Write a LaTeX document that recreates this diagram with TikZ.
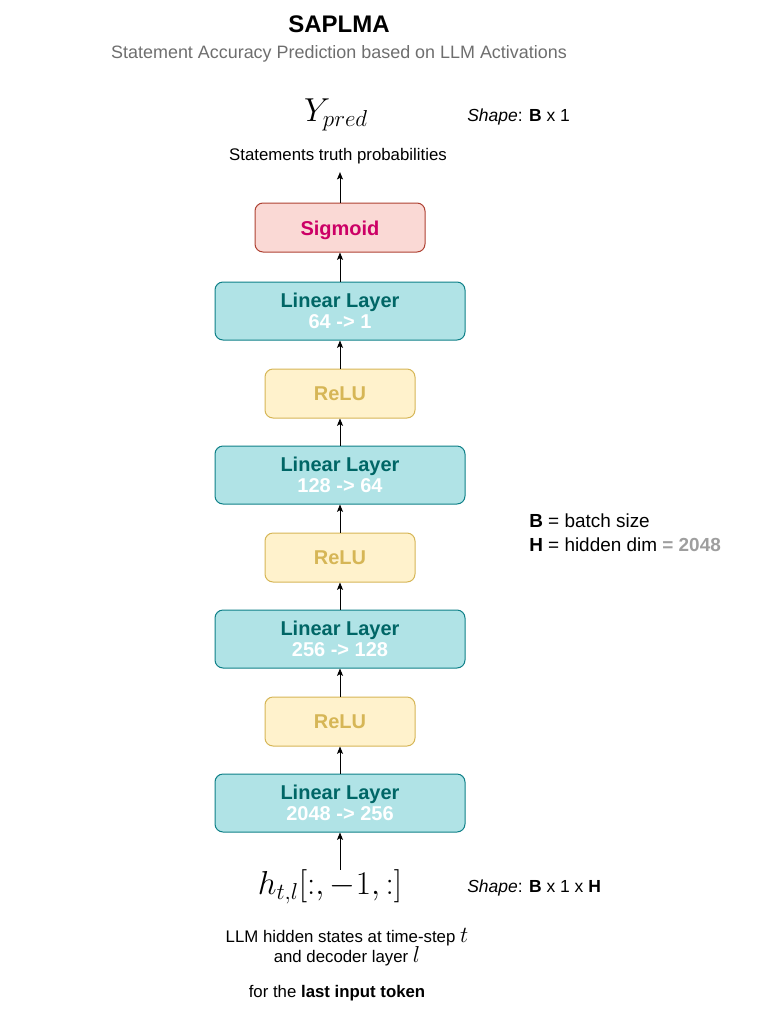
\documentclass[tikz,border=0pt]{standalone}
\usepackage[no-math]{fontspec}
\setmainfont{Liberation Sans}
\usetikzlibrary{arrows.meta}
\definecolor{tealfill}{HTML}{B0E3E6}
\definecolor{tealdraw}{HTML}{0E8088}
\definecolor{tealtext}{HTML}{006666}
\definecolor{pinkfill}{HTML}{FAD9D5}
\definecolor{pinkdraw}{HTML}{AE4132}
\definecolor{sigtext}{HTML}{CC0066}
\definecolor{yelfill}{HTML}{FFF2CC}
\definecolor{yeldraw}{HTML}{D6B656}
\definecolor{subgray}{HTML}{6E6E6E}
\definecolor{numgray}{HTML}{9E9E9E}
\begin{document}
\begin{tikzpicture}[x=0.75pt,y=-0.75pt,
  box/.style={rounded corners=6pt,line width=0.75pt,inner sep=0pt,align=center},
  linbox/.style={box,draw=tealdraw,fill=tealfill,minimum width=187.5pt,minimum height=43.5pt,
     font=\fontsize{15}{15.75}\selectfont\bfseries},
  relubox/.style={box,draw=yeldraw,fill=yelfill,minimum width=112.5pt,minimum height=36.75pt,
     font=\fontsize{15}{18}\selectfont\bfseries,text=yeldraw},
  sigbox/.style={box,draw=pinkdraw,fill=pinkfill,minimum width=127.5pt,minimum height=36.75pt,
     font=\fontsize{15}{18}\selectfont\bfseries,text=sigtext,text height=15.5pt,text depth=3.2pt},
  lbl/.style={inner sep=0pt,font=\fontsize{12.6}{15}\selectfont},
  shp/.style={inner sep=0pt,font=\fontsize{13.1}{15}\selectfont},
  arr/.style={-{Stealth[length=5.5pt,width=4.5pt,inset=1.2pt]},line width=0.75pt,black}]
\useasboundingbox (0,0) rectangle (758,1018);

\node[inner sep=0pt,font=\fontsize{18}{20}\selectfont\bfseries] (title) at (339,24) {SAPLMA};
\node[inner sep=0pt,font=\fontsize{13.45}{15}\selectfont,text=subgray] (subtitle) at (339,54) {Statement Accuracy Prediction based on LLM Activations};

\node[inner sep=0pt,font=\fontsize{25}{27}\selectfont] (ypred) at (336,115) {$Y_{pred}$};
\node[shp,anchor=west] (shape1) at (467,117) {\textit{Shape}: \textbf{B} x 1};
\node[lbl] (stmt) at (338,156) {Statements truth probabilities};

\node[sigbox] (sig) at (340,227.5) {Sigmoid};
\node[linbox] (lin1) at (340,311) {\textcolor{tealtext}{Linear Layer}\\\textcolor{white}{64 -> 1}};
\node[relubox] (relu1) at (340,393.5) {ReLU};
\node[linbox] (lin2) at (340,475) {\textcolor{tealtext}{Linear Layer}\\\textcolor{white}{128 -> 64}};
\node[relubox] (relu2) at (340,557.5) {ReLU};
\node[linbox] (lin3) at (340,639) {\textcolor{tealtext}{Linear Layer}\\\textcolor{white}{256 -> 128}};
\node[relubox] (relu3) at (340,721.5) {ReLU};
\node[linbox] (lin4) at (340,803) {\textcolor{tealtext}{Linear Layer}\\\textcolor{white}{2048 -> 256}};

\node[inner sep=0pt,anchor=west,align=left,font=\fontsize{14.2}{18}\selectfont] (legend) at (529,533) {\textbf{B} = batch size\\\textbf{H} = hidden dim \textcolor{numgray}{\textbf{= 2048}}};

\node[inner sep=0pt,font=\fontsize{25}{27}\selectfont] (h) at (330,887) {$h_{t,l}[:,-1,:]$};
\node[shp,anchor=west] (shape2) at (467,888) {\textit{Shape}: \textbf{B} x 1 x \textbf{H}};
\node[lbl,align=center,font=\fontsize{12.6}{15}\selectfont] (llm) at (347,947)
  {LLM hidden states at time-step {\fontsize{17}{15}\selectfont$t$}\\and decoder layer {\fontsize{17}{15}\selectfont$l$}};
\node[lbl] (last) at (337,993) {for the \textbf{last input token}};

\draw[arr] (h.north -| lin4.south) -- (lin4.south);
\draw[arr] (lin4.north) -- (relu3.south);
\draw[arr] (relu3.north) -- (lin3.south);
\draw[arr] (lin3.north) -- (relu2.south);
\draw[arr] (relu2.north) -- (lin2.south);
\draw[arr] (lin2.north) -- (relu1.south);
\draw[arr] (relu1.north) -- (lin1.south);
\draw[arr] (lin1.north) -- (sig.south);
\draw[arr] (sig.north) -- ([yshift=-6pt]stmt.south -| sig.north);
\end{tikzpicture}
\end{document}
